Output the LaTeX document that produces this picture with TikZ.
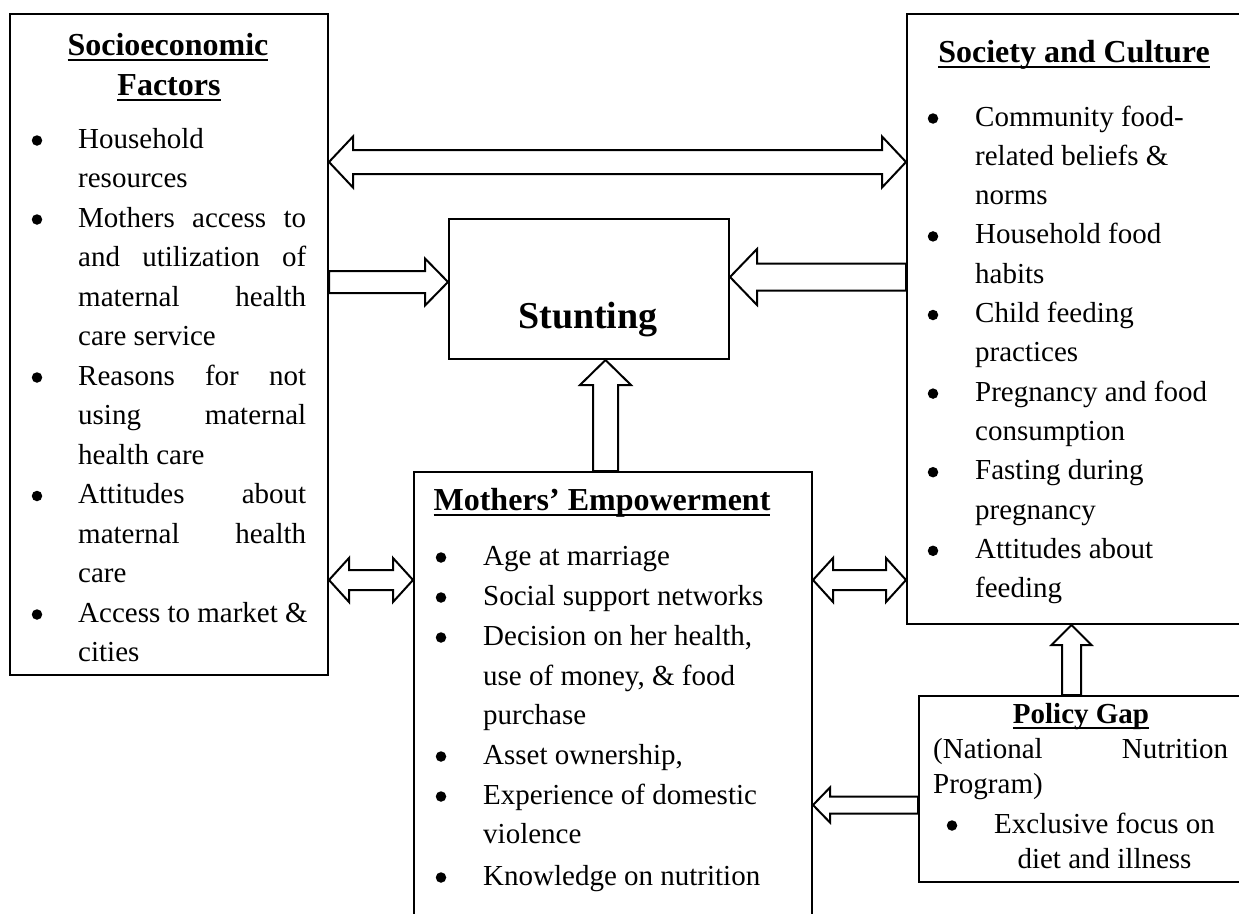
\documentclass[tikz,border=0pt]{standalone}
\usepackage{fontspec}
\setmainfont{Liberation Serif}
\usetikzlibrary{calc}
\newcommand\ulin[1]{\setbox0\hbox{#1}\rlap{\rule[-6pt]{\wd0}{2.2pt}}\box0}
\newcommand\JL[2]{\makebox[#1pt][s]{#2}}
\newcommand\SArrH[5]{\draw[arr] let \p1=#1, \p2=#2, \n1={ifthenelse(\x2>\x1,1,-1)} in
 (\x1,{\y1+#3pt}) -- ({\x2-(\n1)*#5pt},{\y1+#3pt}) -- ({\x2-(\n1)*#5pt},{\y1+#4pt}) -- (\x2,\y1)
 -- ({\x2-(\n1)*#5pt},{\y1-#4pt}) -- ({\x2-(\n1)*#5pt},{\y1-#3pt}) -- (\x1,{\y1-#3pt}) -- cycle;}
\newcommand\SArrV[5]{\draw[arr] let \p1=#1, \p2=#2, \n1={ifthenelse(\y2>\y1,1,-1)} in
 ({\x1+#3pt},\y1) -- ({\x1+#3pt},{\y2-(\n1)*#5pt}) -- ({\x1+#4pt},{\y2-(\n1)*#5pt}) -- (\x1,\y2)
 -- ({\x1-#4pt},{\y2-(\n1)*#5pt}) -- ({\x1-#3pt},{\y2-(\n1)*#5pt}) -- ({\x1-#3pt},\y1) -- cycle;}
\newcommand\DArrH[5]{\draw[arr] let \p1=#1, \p2=#2 in
 (\x1,\y1) -- ({\x1+#5pt},{\y1+#4pt}) -- ({\x1+#5pt},{\y1+#3pt}) -- ({\x2-#5pt},{\y1+#3pt})
 -- ({\x2-#5pt},{\y1+#4pt}) -- (\x2,\y1) -- ({\x2-#5pt},{\y1-#4pt}) -- ({\x2-#5pt},{\y1-#3pt})
 -- ({\x1+#5pt},{\y1-#3pt}) -- ({\x1+#5pt},{\y1-#4pt}) -- cycle;}
\tikzset{
 box/.style={draw, line width=2pt, inner sep=0pt, anchor=north west},
 arr/.style={draw, line width=2pt, line join=miter},
 txt/.style={inner sep=0pt, anchor=base west, font=\fontsize{29}{35}\selectfont},
 bul/.style={circle, fill=black, inner sep=0pt, minimum size=10.5pt, yshift=7.5pt},
 ctr/.style={inner sep=0pt, anchor=base, font=\fontsize{29}{35}\selectfont},
 ttl/.style={inner sep=0pt, anchor=base, font=\fontsize{32}{38}\selectfont\bfseries},
}
\begin{document}
\begin{tikzpicture}[x=1pt,y=-1pt]
\useasboundingbox (0,0) rectangle (1239,913);
% boxes
\node[box, minimum width=318pt, minimum height=661pt] (se) at (9,13) {};
\node[box, minimum width=344pt, minimum height=610pt] (soc) at (906,13) {};
\node[box, minimum width=280pt, minimum height=140pt] (stunt) at (448,218) {};
\node[box, minimum width=398pt, minimum height=480pt] (moth) at (413,471) {};
\node[box, minimum width=332pt, minimum height=186pt] (pol) at (918,695) {};

% Stunting
\node[inner sep=0pt, anchor=base, font=\fontsize{38}{44}\selectfont\bfseries] (stunttxt) at (588,328) {Stunting};

% Socioeconomic factors
\node[ttl] (seT1) at (168,55) {\ulin{Socioeconomic}};
\node[ttl] (seT2) at (169,95) {\ulin{Factors}};
\node[bul] (seb1) at (37,148) {};
\node[txt] (se1) at (78,148) {Household};
\node[txt] (se2) at (78,187.5) {resources};
\node[bul] (seb2) at (37,227) {};
\node[txt] (se3) at (78,227) {\JL{228}{Mothers access to}};
\node[txt] (se4) at (78,266.5) {\JL{228}{and utilization of}};
\node[txt] (se5) at (78,306) {\JL{228}{maternal health}};
\node[txt] (se6) at (78,345.5) {care service};
\node[bul] (seb3) at (37,385) {};
\node[txt] (se7) at (78,385) {\JL{228}{Reasons for not}};
\node[txt] (se8) at (78,424.5) {\JL{228}{using maternal}};
\node[txt] (se9) at (78,464) {health care};
\node[bul] (seb4) at (37,503.5) {};
\node[txt] (se10) at (78,503.5) {\JL{228}{Attitudes about}};
\node[txt] (se11) at (78,543) {\JL{228}{maternal health}};
\node[txt] (se12) at (78,582.5) {care};
\node[bul] (seb5) at (37,622) {};
\node[txt] (se13) at (78,622) {Access to market \&};
\node[txt] (se14) at (78,661.5) {cities};

% Society and Culture
\node[ttl] (socT) at (1074,62) {\ulin{Society and Culture}};
\node[bul] (socb1) at (933,126) {};
\node[txt] (soc1) at (975,126) {Community food-};
\node[txt] (soc2) at (975,165.3) {related beliefs \&};
\node[txt] (soc3) at (975,204.6) {norms};
\node[bul] (socb2) at (933,243.9) {};
\node[txt] (soc4) at (975,243.9) {Household food};
\node[txt] (soc5) at (975,283.2) {habits};
\node[bul] (socb3) at (933,322.5) {};
\node[txt] (soc6) at (975,322.5) {Child feeding};
\node[txt] (soc7) at (975,361.8) {practices};
\node[bul] (socb4) at (933,401.1) {};
\node[txt] (soc8) at (975,401.1) {Pregnancy and food};
\node[txt] (soc9) at (975,440.4) {consumption};
\node[bul] (socb5) at (933,479.7) {};
\node[txt] (soc10) at (975,479.7) {Fasting during};
\node[txt] (soc11) at (975,519) {pregnancy};
\node[bul] (socb6) at (933,558.3) {};
\node[txt] (soc12) at (975,558.3) {Attitudes about};
\node[txt] (soc13) at (975,597.6) {feeding};

% Mothers' Empowerment
\node[ttl] (mT) at (602,510) {\ulin{Mothers’ Empowerment}};
\node[bul] (mb1) at (441,565) {};
\node[txt] (m1) at (483,565) {Age at marriage};
\node[bul] (mb2) at (441,605) {};
\node[txt] (m2) at (483,605) {Social support networks};
\node[bul] (mb3) at (441,645) {};
\node[txt] (m3) at (483,645) {Decision on her health,};
\node[txt] (m4) at (483,685) {use of money, \& food};
\node[txt] (m5) at (483,724) {purchase};
\node[bul] (mb4) at (441,764) {};
\node[txt] (m6) at (483,764) {Asset ownership,};
\node[bul] (mb5) at (441,804) {};
\node[txt] (m7) at (483,804) {Experience of domestic};
\node[txt] (m8) at (483,843) {violence};
\node[bul] (mb6) at (441,885) {};
\node[txt] (m9) at (483,885) {Knowledge on nutrition};

% Policy Gap
\node[inner sep=0pt, anchor=base, font=\fontsize{29}{35}\selectfont\bfseries] (pT) at (1081,723) {\ulin{Policy Gap}};
\node[txt] (p1) at (933,758) {\JL{295}{(National Nutrition}};
\node[txt] (p2) at (933,793) {Program)};
\node[bul] (pb1) at (952,833) {};
\node[ctr] (p3) at (1104.5,833) {Exclusive focus on};
\node[ctr] (p4) at (1104.5,868) {diet and illness};

% helper coordinates
\coordinate (yA) at (0,162);
\coordinate (yB) at (0,282);
\coordinate (yC) at (0,277);
\coordinate (xD) at (605.5,0);
\coordinate (yE) at (0,580);
\coordinate (xF) at (1071.5,0);
\coordinate (yG) at (0,805);

% arrows
\DArrH{(se.east|-yA)}{(soc.west|-yA)}{12}{25.5}{24}
\SArrH{(se.east|-yB)}{(stunt.west|-yB)}{11}{23.5}{23}
\SArrH{(soc.west|-yC)}{(stunt.east|-yC)}{13.5}{28}{27}
\SArrV{(xD|-moth.north)}{(xD|-stunt.south)}{12.5}{25.5}{25}
\DArrH{(se.east|-yE)}{(moth.west|-yE)}{10}{22}{20}
\DArrH{(moth.east|-yE)}{(soc.west|-yE)}{10}{22}{20}
\SArrV{(xF|-pol.north)}{(xF|-soc.south)}{9.5}{20}{20}
\SArrH{(pol.west|-yG)}{(moth.east|-yG)}{8.5}{17.5}{17}
\end{tikzpicture}
\end{document}
